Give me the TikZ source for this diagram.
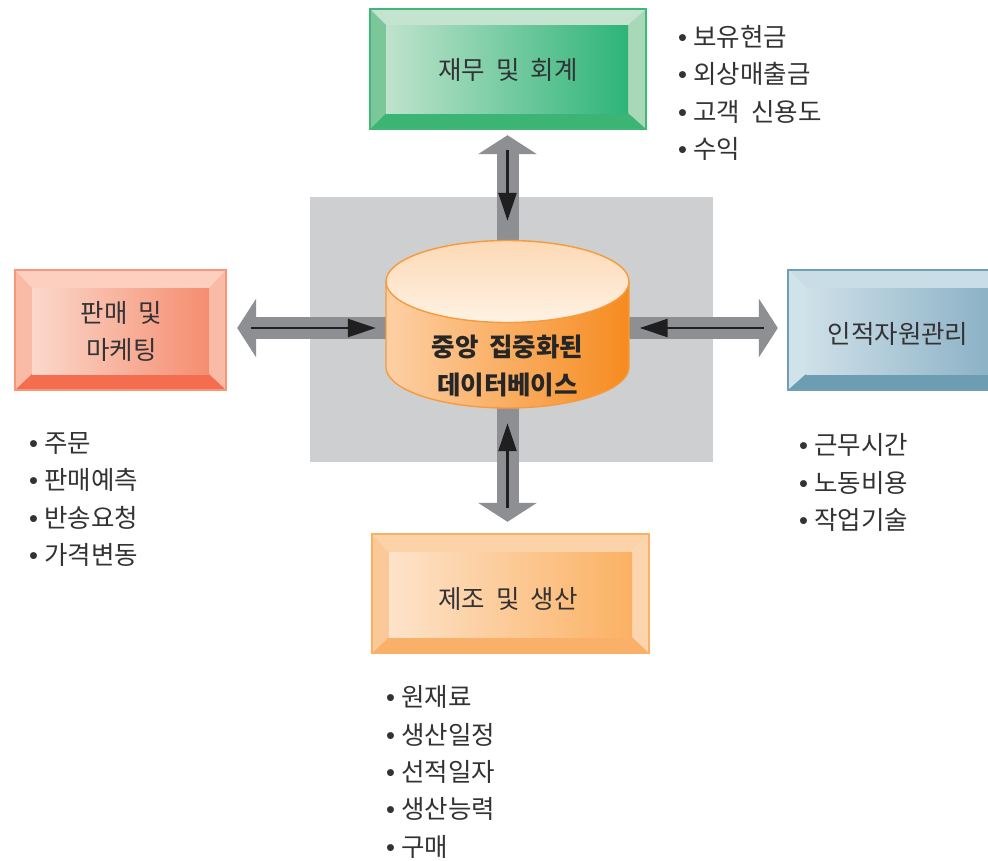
\documentclass[tikz,border=0pt]{standalone}
\usepackage{fontspec}
\setmainfont{Noto Sans CJK KR}
\newfontfamily\bulletfont{Liberation Sans}
\usetikzlibrary{arrows.meta}
\definecolor{panelgray}{HTML}{CDCFD1}
\definecolor{arrowgray}{HTML}{8E8F93}
\definecolor{inkdark}{HTML}{333335}
\definecolor{cylborder}{HTML}{F79A3C}
\definecolor{cylleft}{HTML}{FDD0A5}
\definecolor{cylright}{HTML}{F68B1F}
\definecolor{captop}{HTML}{FDD9B5}
\definecolor{capbottom}{HTML}{FEF2E4}
\newcommand{\wgap}{\hspace{11pt}}
\newcommand{\itm}{\makebox[15pt][l]{\bulletfont •}}
\newcommand{\bevelcolors}[7]{%
  \definecolor{bt}{HTML}{#1}\definecolor{bl}{HTML}{#2}\definecolor{br}{HTML}{#3}%
  \definecolor{bb}{HTML}{#4}\definecolor{il}{HTML}{#5}\definecolor{ir}{HTML}{#6}\definecolor{bd}{HTML}{#7}}
% outer x0,y0,x1,y1 ; inner x0,y0,x1,y1
\newcommand{\bevelbox}[8]{%
  \fill[bt] (#1,#2) -- (#3,#2) -- (#7,#6) -- (#5,#6) -- cycle;
  \fill[bl] (#1,#2) -- (#5,#6) -- (#5,#8) -- (#1,#4) -- cycle;
  \fill[br] (#3,#2) -- (#7,#6) -- (#7,#8) -- (#3,#4) -- cycle;
  \fill[bb] (#1,#4) -- (#5,#8) -- (#7,#8) -- (#3,#4) -- cycle;
  \shade[left color=il,right color=ir] (#5,#6) rectangle (#7,#8);
  \draw[bd,line width=1.6pt] (#1,#2) rectangle (#3,#4);
}
\tikzset{
  boxlabel/.style={text=inkdark,align=center,inner sep=0pt,font=\fontsize{25.5}{37}\selectfont},
  listlabel/.style={text=inkdark,align=left,anchor=west,inner sep=0pt,font=\fontsize{25.5}{37.4}\selectfont},
  grayarrow/.style={draw=arrowgray,line width=22pt,-{Triangle[length=19pt,width=58pt]}},
  blackarrow/.style={draw=black!88,line width=2.4pt,-{Triangle[length=28pt,width=18pt]}}
}
\begin{document}
\begin{tikzpicture}[x=1pt,y=-1pt]
\clip (0,0) rectangle (988,860);
\fill[white] (0,0) rectangle (988,860);
% central panel
\fill[panelgray] (310,197) rectangle (713,462);

% finance
\bevelcolors{C5E4CF}{7CC79A}{A8D8B8}{3CB574}{BFE3CC}{2DB478}{3DB878}
\bevelbox{370}{9}{646}{129}{386}{25}{628}{113}
\node[boxlabel,minimum width=276pt,minimum height=120pt] (fin) at (508,69) {\raisebox{-1pt}[\height][\depth]{재무\wgap 및\wgap 회계}};

% sales
\bevelcolors{FCCFBE}{F9BBA6}{F9BBA6}{F36D4E}{FBD8CB}{F58D70}{F9957A}
\bevelbox{15}{270}{226}{390}{32}{288}{209}{374}
\node[boxlabel,minimum width=211pt,minimum height=120pt] (sales) at (121.5,331) {판매\wgap 및\\마케팅};

% human resources (runs off the right edge)
\bevelcolors{C9DDE6}{D0E2EA}{C9DDE6}{6C9DB2}{CFE0E8}{8CB2C6}{6F9FB5}
\bevelbox{788}{270}{1006}{390}{806}{288}{988}{374}
\node[boxlabel,minimum width=218pt,minimum height=120pt] (hr) at (897,334) {\hspace*{2pt}인적자원관리};

% manufacturing
\bevelcolors{FCD2A8}{FBC898}{FCD5AE}{FBB06A}{FDE3CA}{FBB163}{FBB065}
\bevelbox{372}{534}{649}{653}{389}{552}{632}{637}
\node[boxlabel,minimum width=277pt,minimum height=119pt] (mfg) at (510.5,593.5) {\raisebox{-5pt}[\height][\depth]{\hspace*{-5pt}제조\wgap 및\wgap 생산}};

% database anchor node
\node[minimum width=243pt,minimum height=167pt,inner sep=0pt] (db) at (507.5,324.5) {};
\coordinate (wcross) at (db.center |- 0,326);
\coordinate (ncross) at (db.center |- fin.south);
\coordinate (scross) at (db.center |- mfg.north);
\coordinate (wedge) at (db.west |- wcross);
\coordinate (eedge) at (db.east |- wcross);
\coordinate (salesedge) at (sales.east |- wcross);
\coordinate (hredge) at (hr.west |- wcross);

% grey block arrows
\draw[grayarrow,shorten >=6pt] (db.center) -- (ncross);
\draw[grayarrow,shorten >=12pt] (db.center) -- (scross);
\draw[grayarrow,shorten >=10pt] ([yshift=-2pt]wcross) -- ([yshift=-2pt]salesedge);
\draw[grayarrow,shorten >=10pt] ([yshift=-2pt]wcross) -- ([yshift=-2pt]hredge);

% black arrows
\draw[blackarrow,shorten <=21pt,shorten >=20pt] (ncross) -- (db.north);
\draw[blackarrow,shorten <=26pt,shorten >=15pt] (scross) -- (db.south);
\draw[blackarrow,shorten <=24pt,shorten >=10pt] ([yshift=-2pt]salesedge) -- ([yshift=-2pt]wedge);
\draw[blackarrow,shorten <=24pt,shorten >=10.5pt] ([yshift=-2pt]hredge) -- ([yshift=-2pt]eedge);

% cylinder
\shade[left color=cylleft,right color=cylright]
  (386,281.5) -- (386,367) arc[start angle=180,end angle=0,x radius=121.5,y radius=41] -- (629,281.5)
  arc[start angle=0,end angle=-180,x radius=121.5,y radius=41] -- cycle;
\draw[cylborder,line width=1.4pt]
  (386,281.5) -- (386,367) arc[start angle=180,end angle=0,x radius=121.5,y radius=41] -- (629,281.5);
\shade[top color=captop,bottom color=capbottom]
  (507.5,281.5) ellipse[x radius=121.5,y radius=41];
\draw[cylborder,line width=1.4pt] (507.5,281.5) ellipse[x radius=121.5,y radius=41];
\node[boxlabel,font=\bfseries\fontsize{25.5}{38}\selectfont,text=black!85] (dbtext) at (507.5,366) {중앙\wgap 집중화된\\데이터베이스};

% lists
\node[listlabel] (finlist) at (678,93) {\itm 보유현금\\\itm 외상매출금\\\itm 고객\wgap 신용도\\\itm 수익};
\node[listlabel] (saleslist) at (29,499.5) {\itm 주문\\\itm 판매예측\\\itm 반송요청\\\itm 가격변동};
\node[listlabel] (hrlist) at (799,482.5) {\itm 근무시간\\\itm 노동비용\\\itm 작업기술};
\node[listlabel] (mfglist) at (386,772) {\itm 원재료\\\itm 생산일정\\\itm 선적일자\\\itm 생산능력\\\itm 구매};
\end{tikzpicture}
\end{document}
